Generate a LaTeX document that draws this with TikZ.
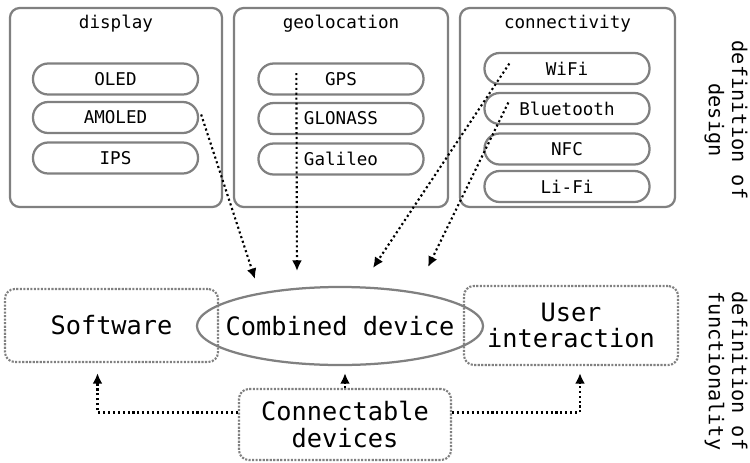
\documentclass[tikz,border=0pt]{standalone}
\usepackage{fontspec}
\setmonofont{DejaVu Sans Mono}
\usepackage{tikz}
\usetikzlibrary{arrows.meta,calc,shapes.geometric}
\definecolor{frame}{RGB}{128,128,128}

\begin{document}
\begin{tikzpicture}[x=0.025cm,y=-0.025cm,font=\ttfamily,
  group/.style={draw=frame,line width=1.6pt,rounded corners=7pt,minimum height=4.975cm,inner sep=0pt},
  tech/.style={draw=frame,line width=1.6pt,rounded corners=0.38cm,minimum width=4.125cm,minimum height=0.775cm,inner sep=0pt,font=\ttfamily\fontsize{12.5}{14}\selectfont},
  head/.style={font=\ttfamily\fontsize{12.5}{14}\selectfont},
  part/.style={draw=frame,densely dotted,line width=1.5pt,rounded corners=7pt,align=center,inner sep=0pt,font=\ttfamily\fontsize{18}{19}\selectfont},
  side/.style={rotate=-90,align=center,font=\ttfamily\fontsize{14.4}{16.5}\selectfont},
  link/.style={dotted,line width=1.5pt,-{Latex[length=7.5pt,width=7pt]}}]
\useasboundingbox (0,0) rectangle (750,462);

% groups of the design
\node[group,minimum width=5.3cm] (disp) at (116,107.5) {};
\node[group,minimum width=5.35cm] (geo) at (341,107.5) {};
\node[group,minimum width=5.375cm] (conn) at (567.5,107.5) {};
\node[head] (disptitle) at (116,24) {display};
\node[head] (geotitle) at (341,24) {geolocation};
\node[head] (conntitle) at (567.5,24) {connectivity};

\node[tech] (oled) at (115.5,79) {OLED};
\node[tech] (amoled) at (115.5,117.5) {AMOLED};
\node[tech] (ips) at (115.5,158) {IPS};

\node[tech] (gps) at (341,79) {GPS};
\node[tech] (glonass) at (341,118.5) {GLONASS};
\node[tech] (galileo) at (341,159) {Galileo};

\node[tech] (wifi) at (567,68.5) {WiFi};
\node[tech] (bluetooth) at (567,108.5) {Bluetooth};
\node[tech] (nfc) at (567,149) {NFC};
\node[tech] (lifi) at (567,186.5) {Li-Fi};

% functionality
\node[part,minimum width=5.325cm,minimum height=1.825cm] (soft) at (111.5,325.5) {Software};
\node[draw=frame,line width=1.6pt,ellipse,inner sep=0pt,minimum width=7.15cm,minimum height=1.95cm,font=\ttfamily\fontsize{18}{19}\selectfont] (comb) at (340,326) {\makebox[0pt]{Combined device}};
\node[part,minimum width=5.35cm,minimum height=1.975cm] (user) at (571,325.5) {User\\interaction};
\node[part,minimum width=5.3cm,minimum height=1.775cm] (cdev) at (345,424.5) {Connectable\\devices};

\node[side] (design) at (726,120) {definition of\\design};
\node[side] (funct) at (726,371) {definition of\\functionality};

\coordinate (in1) at (255,279);
\coordinate (in2) at (297,271);
\coordinate (in3) at (373,268);
\coordinate (in4) at (428,267);

\draw[link] ($(amoled.east)+(2,-3)$) -- (in1);
\draw[link] ($(gps.west)+(39,-6)$) -- (in2);
\draw[link] ($(wifi.west)+(26,-5)$) -- (in3);
\draw[link] ($(bluetooth.west)+(25,-6)$) -- (in4);

\draw[link] (cdev.north -| 345,0) -- ($(comb.south)+(5,7)$);
\draw[link] ($(cdev.west)+(0,-12)$) -| ($(soft.south)+(-14,10)$);
\draw[link] ($(cdev.east)+(0,-12)$) -| ($(user.south)+(9,7)$);
\end{tikzpicture}
\end{document}
